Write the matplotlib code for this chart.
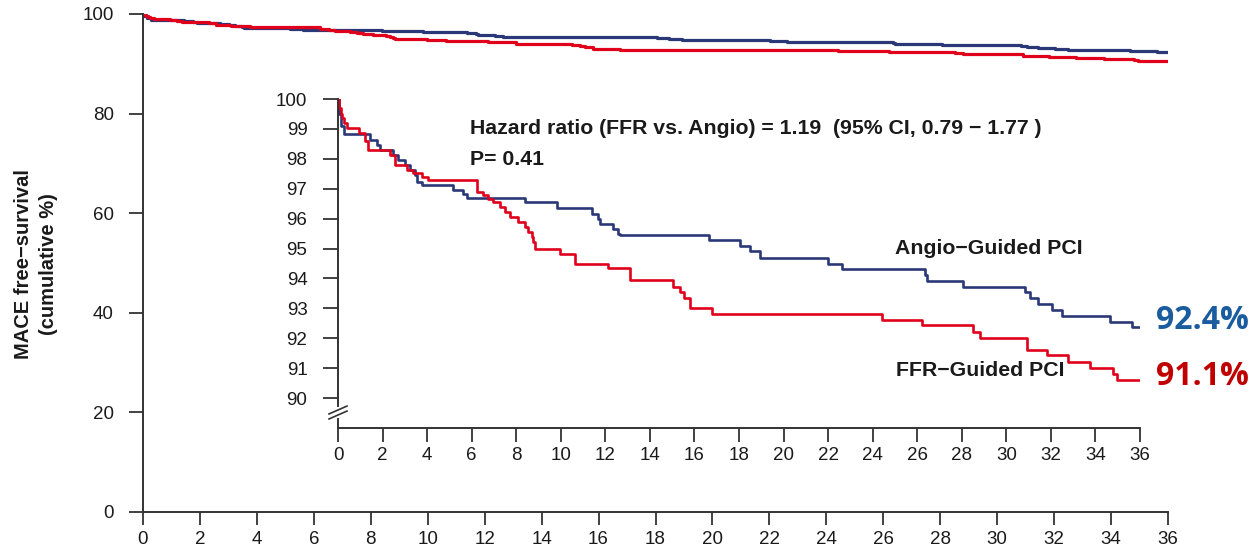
import matplotlib.pyplot as plt

plt.rcParams['font.family'] = ['Liberation Sans', 'DejaVu Sans']

# Kaplan-Meier steps (months, MACE-free survival %)
angio_t = [0, 0.05, 0.15, 0.27, 1.44, 1.74, 1.89, 2.48, 2.71, 3.01, 3.23, 3.46, 3.53, 3.76,
           5.18, 5.63, 5.78, 8.39, 9.82, 11.39, 11.69, 11.76, 12.36, 12.58, 12.66, 16.67,
           18.04, 18.49, 18.94, 22.01, 22.61, 26.35, 26.42, 28.07, 30.83, 31.06, 31.43,
           32.03, 32.48, 34.65, 35.62, 36.0]
angio_v = [100, 99.5, 99.1, 98.82, 98.63, 98.46, 98.29, 98.12, 97.96, 97.79, 97.62, 97.45,
           97.23, 97.12, 96.95, 96.84, 96.70, 96.54, 96.36, 96.17, 96.0, 95.83, 95.66, 95.49,
           95.45, 95.29, 95.10, 94.91, 94.69, 94.49, 94.32, 94.10, 93.93, 93.73, 93.54, 93.35,
           93.15, 92.95, 92.76, 92.53, 92.37, 92.37]

ffr_t = [0, 0.06, 0.12, 0.17, 0.25, 0.39, 0.96, 1.21, 1.36, 2.33, 2.56, 3.08, 3.38, 3.76,
         4.06, 6.22, 6.52, 6.75, 6.97, 7.27, 7.50, 7.72, 8.09, 8.39, 8.54, 8.69, 8.77, 8.84,
         9.96, 10.64, 12.13, 13.1, 15.05, 15.35, 15.53, 15.80, 16.77, 24.40, 26.2, 28.51,
         28.81, 30.91, 31.81, 32.78, 33.75, 34.80, 34.95, 36.0]
ffr_v = [100, 99.7, 99.5, 99.35, 99.2, 99.04, 98.85, 98.6, 98.31, 98.12, 97.79, 97.62, 97.51,
         97.40, 97.29, 96.89, 96.78, 96.67, 96.56, 96.39, 96.22, 96.05, 95.88, 95.71, 95.55,
         95.38, 95.21, 94.99, 94.82, 94.49, 94.34, 93.95, 93.73, 93.54, 93.35, 93.02, 92.82,
         92.62, 92.43, 92.21, 92.02, 91.62, 91.43, 91.21, 91.02, 90.82, 90.60, 90.60]

x_ticks = list(range(0, 37, 2))
main_y_ticks = [0, 20, 40, 60, 80, 100]
inset_y_ticks = list(range(90, 101))

blue = '#2a3878'
red = '#e0001b'
txt = '#1a1a1a'

fig = plt.figure(figsize=(12.53, 5.5), dpi=100)

# main axes
ax = fig.add_axes([143 / 1253, 1 - 512 / 550, 1025 / 1253, 498 / 550])
ax.step(angio_t, angio_v, where='post', color=blue, lw=2.3)
ax.step(ffr_t, ffr_v, where='post', color=red, lw=2.3)
ax.set_xlim(0, 36)
ax.set_ylim(0, 100)
ax.set_xticks(x_ticks)
ax.set_yticks(main_y_ticks)
for s in ['top', 'right']:
    ax.spines[s].set_visible(False)
for s in ['left', 'bottom']:
    ax.spines[s].set_linewidth(1.4)
    ax.spines[s].set_color('#333333')
ax.tick_params(axis='x', length=9.5, width=1.3, pad=4, labelsize=13.5, colors='#333333', labelcolor=txt)
ax.tick_params(axis='y', length=10, width=1.3, pad=11, labelsize=13.5, colors='#333333', labelcolor=txt)
fig.text(36 / 1253, 1 - 264 / 550, 'MACE free\u2212survival\n(cumulative %)', rotation=90,
         ha='center', va='center', multialignment='center', fontsize=14.5, fontweight='bold',
         linespacing=1.4, color=txt)

# inset axes
ins = fig.add_axes([338 / 1253, 1 - 428 / 550, 802 / 1253, 329 / 550])
ins.patch.set_alpha(0)
ins.step(angio_t, angio_v, where='post', color=blue, lw=1.9)
ins.step(ffr_t, ffr_v, where='post', color=red, lw=1.9)
ins.set_xlim(0, 36)
ins.set_ylim(89, 100)
ins.set_xticks(x_ticks)
ins.set_yticks(inset_y_ticks)
for s in ['top', 'right']:
    ins.spines[s].set_visible(False)
for s in ['left', 'bottom']:
    ins.spines[s].set_linewidth(1.4)
    ins.spines[s].set_color('#333333')
ins.spines['left'].set_bounds(89.73, 100)
ins.tick_params(axis='x', length=10, width=1.3, pad=4, labelsize=13.5, colors='#333333', labelcolor=txt)
ins.tick_params(axis='y', length=11, width=1.3, pad=11, labelsize=13.5, colors='#333333', labelcolor=txt)

# axis break
ins.plot([0, 0], [0, 9 / 329], transform=ins.transAxes, color='#333333', lw=1.4, clip_on=False)
for yc in [18 / 329, 13 / 329]:
    ins.plot([-0.0112, 0.0112], [yc - 0.012, yc + 0.012], transform=ins.transAxes,
             color='#333333', lw=1.2, clip_on=False)

ins.text(5.92, 98.83, 'Hazard ratio (FFR vs. Angio) = 1.19  (95% CI, 0.79 \u2212 1.77 )',
         fontsize=15.3, fontweight='bold', va='baseline', color=txt)
ins.text(5.92, 97.79, 'P= 0.41', fontsize=15.3, fontweight='bold', va='baseline', color=txt)
ins.text(25.0, 94.83, 'Angio\u2212Guided PCI', fontsize=15.3, fontweight='bold', va='baseline', color=txt)
ins.text(25.04, 90.74, 'FFR\u2212Guided PCI', fontsize=15.3, fontweight='bold', va='baseline', color=txt)
ins.text(36.7, 92.32, '92.4%', fontsize=23, fontweight='bold', va='baseline', color='#1b5c9e',
         family=['Open Sans', 'DejaVu Sans'], clip_on=False)
ins.text(36.7, 90.44, '91.1%', fontsize=23, fontweight='bold', va='baseline', color='#c00000',
         family=['Open Sans', 'DejaVu Sans'], clip_on=False)

fig.savefig('out.png', dpi=100)
